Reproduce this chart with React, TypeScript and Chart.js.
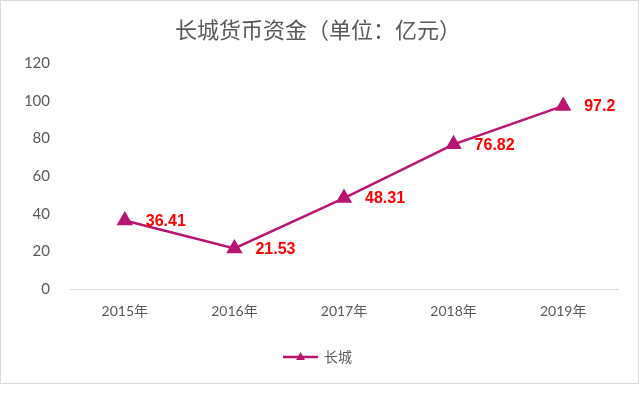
import React, { useEffect, useRef } from "react";
import { Chart, registerables } from "chart.js";

Chart.register(...registerables);

const categories = ["2015年", "2016年", "2017年", "2018年", "2019年"];
const seriesName = "长城";
const values = [36.41, 21.53, 48.31, 76.82, 97.2];
const titleText = "长城货币资金（单位：亿元）";

const LINE = "#BA1472";
const GRAY_TEXT = "#595959";
const NUM_FONT = "Lato, 'Noto Sans CJK SC', sans-serif";
const CJK_FONT = "'Noto Sans CJK SC', Lato, sans-serif";

const decor = {
  id: "decor",
  beforeDraw(chart: any) {
    const ctx = chart.ctx;
    ctx.save();
    ctx.fillStyle = "#ffffff";
    ctx.fillRect(0, 0, chart.width, chart.height);
    ctx.strokeStyle = "#d9d9d9";
    ctx.lineWidth = 1;
    ctx.strokeRect(0.5, 0.5, 638, 383);
    ctx.restore();
  },
  afterDraw(chart: any) {
    const ctx = chart.ctx;
    ctx.save();
    // title
    ctx.fillStyle = GRAY_TEXT;
    ctx.font = `22px ${CJK_FONT}`;
    ctx.textAlign = "center";
    ctx.textBaseline = "middle";
    ctx.fillText(titleText, 318, 30);
    // data labels
    const meta = chart.getDatasetMeta(0);
    ctx.fillStyle = "#FF0000";
    ctx.font = `bold 16px 'Liberation Sans', Arial, sans-serif`;
    ctx.textAlign = "left";
    ctx.textBaseline = "middle";
    meta.data.forEach((pt: any, i: number) => {
      ctx.fillText(String(values[i]), pt.x + 21, pt.y + 1);
    });
    // legend
    const ly = 357;
    ctx.strokeStyle = LINE;
    ctx.lineWidth = 2.5;
    ctx.beginPath();
    ctx.moveTo(283, ly);
    ctx.lineTo(318, ly);
    ctx.stroke();
    ctx.fillStyle = LINE;
    ctx.beginPath();
    ctx.moveTo(300.5, ly - 5);
    ctx.lineTo(305, ly + 3);
    ctx.lineTo(296, ly + 3);
    ctx.closePath();
    ctx.fill();
    ctx.fillStyle = GRAY_TEXT;
    ctx.font = `14px ${CJK_FONT}`;
    ctx.textAlign = "left";
    ctx.fillText(seriesName, 324, ly);
    ctx.restore();
  },
};

export default function App() {
  const ref = useRef<HTMLCanvasElement>(null);
  useEffect(() => {
    document.body.style.margin = "0";
    const chart = new Chart(ref.current as HTMLCanvasElement, {
      type: "line",
      data: {
        labels: categories,
        datasets: [
          {
            label: seriesName,
            data: values,
            borderColor: LINE,
            backgroundColor: LINE,
            borderWidth: 2.5,
            pointStyle: "triangle",
            pointRadius: 7,
            pointHoverRadius: 7,
            pointBackgroundColor: LINE,
            pointBorderColor: LINE,
            tension: 0,
          },
        ],
      },
      options: {
        responsive: false,
        animation: false,
        layout: { padding: { left: 0, right: 22, top: 63, bottom: 0 } },
        plugins: {
          legend: { display: false },
          title: { display: false },
          tooltip: { enabled: false },
        },
        scales: {
          x: {
            offset: true,
            grid: { display: false },
            border: { display: true, color: "#d9d9d9", width: 1 },
            ticks: {
              color: GRAY_TEXT,
              font: { size: 14, family: NUM_FONT },
              padding: 6,
              maxRotation: 0,
            },
            afterFit(scale: any) {
              scale.height = 108;
            },
          },
          y: {
            min: 0,
            max: 120,
            grid: { display: false },
            border: { display: false },
            ticks: {
              stepSize: 20,
              color: GRAY_TEXT,
              font: { size: 15, family: NUM_FONT },
              padding: 12,
            },
            afterFit(scale: any) {
              scale.width = 70;
            },
          },
        },
      },
      plugins: [decor],
    });
    return () => chart.destroy();
  }, []);
  return (
    <div style={{ position: "absolute", left: 0, top: 0, width: 640, height: 397 }}>
      <canvas ref={ref} width={640} height={397} />
    </div>
  );
}
